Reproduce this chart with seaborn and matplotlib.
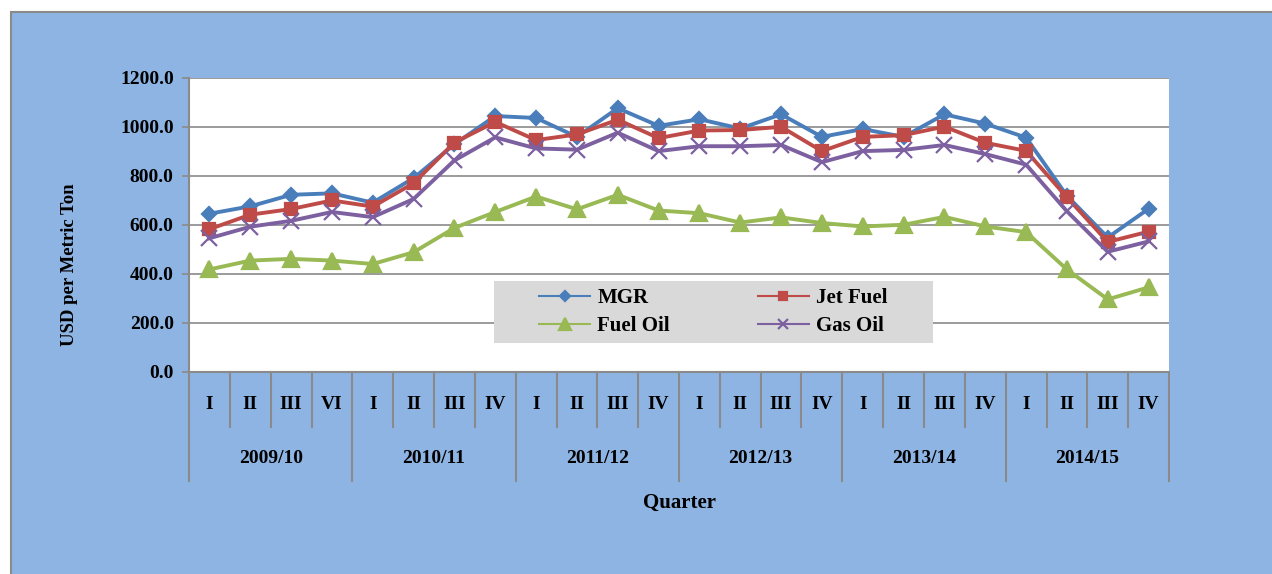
import numpy as np
import pandas as pd
import matplotlib
matplotlib.use("Agg")
import matplotlib.pyplot as plt
from matplotlib.patches import Rectangle
import seaborn as sns

# Quarterly prices (USD per metric ton)
quarters = ["I", "II", "III", "VI", "I", "II", "III", "IV",
            "I", "II", "III", "IV", "I", "II", "III", "IV",
            "I", "II", "III", "IV", "I", "II", "III", "IV"]
years = ["2009/10", "2010/11", "2011/12", "2012/13", "2013/14", "2014/15"]

mgr = [645, 675, 722, 728, 690, 790, 928, 1043, 1035, 958, 1075, 1003,
       1030, 992, 1050, 958, 990, 958, 1050, 1012, 955, 718, 548, 665]
jet_fuel = [582, 641, 664, 699, 674, 769, 935, 1019, 945, 968, 1028, 953,
            984, 986, 999, 900, 958, 965, 1000, 934, 901, 712, 530, 572]
fuel_oil = [418, 454, 461, 454, 440, 488, 587, 652, 715, 663, 722, 658,
            647, 609, 630, 607, 593, 600, 632, 593, 570, 418, 296, 345]
gas_oil = [545, 592, 616, 652, 631, 705, 862, 956, 911, 906, 975, 900,
           920, 920, 925, 855, 900, 905, 925, 888, 845, 655, 490, 532]

series = ["MGR", "Jet Fuel", "Fuel Oil", "Gas Oil"]
colors = ["#4A7EBB", "#BE4B48", "#98B954", "#7D60A0"]
markers = ["D", "s", "^", "x"]
msizes = [7, 9, 12, 11]

n = len(quarters)
df = pd.DataFrame({
    "idx": np.tile(np.arange(n), 4),
    "price": mgr + jet_fuel + fuel_oil + gas_oil,
    "series": np.repeat(series, n),
})

plt.rcParams["font.family"] = ["Liberation Serif", "DejaVu Serif"]
plt.rcParams["font.weight"] = "bold"

fig = plt.figure(figsize=(12.72, 5.74), dpi=100)
fig.patch.set_facecolor("white")
fig.add_artist(Rectangle((11 / 1272, -0.01), 1.0, (574 - 12) / 574 + 0.01,
                         transform=fig.transFigure, facecolor="#8EB4E3",
                         edgecolor="#8A8A8A", linewidth=1.5, zorder=-10))

ax = fig.add_axes([189 / 1272, (574 - 372) / 574, 980 / 1272, 294.5 / 574])
ax.set_facecolor("white")

for name, c, m, ms in zip(series, colors, markers, msizes):
    sub = df[df["series"] == name]
    sns.lineplot(data=sub, x="idx", y="price", color=c, marker=m,
                 markersize=ms, markeredgecolor=c, markerfacecolor=c,
                 markeredgewidth=1.6, linewidth=2.8, label=name, ax=ax)

# grey legend box, legend drawn on top of it
ax.add_patch(Rectangle((0.311, 0.0985), 0.448, 0.21, transform=ax.transAxes,
                       facecolor="#D9D9D9", edgecolor="none", zorder=4))
handles, labels = ax.get_legend_handles_labels()
lookup = dict(zip(labels, handles))
order = ["MGR", "Fuel Oil", "Jet Fuel", "Gas Oil"]
leg = ax.legend([lookup[k] for k in order], order, ncol=2, loc="center",
                bbox_to_anchor=(0.311 + 0.224, 0.0985 + 0.105),
                frameon=False, prop={"size": 15, "weight": "bold"},
                handlelength=2.45, handletextpad=0.35, columnspacing=4.2,
                markerscale=0.7, labelspacing=0.4, borderpad=0)
leg.set_zorder(5)
for h in leg.legend_handles:
    h.set_linewidth(1.5)

ax.set_ylim(0, 1200)
ax.set_xlim(-0.5, n - 0.5)
ax.set_yticks(np.arange(0, 1201, 200))
ax.set_yticklabels([f"{v:.1f}" for v in np.arange(0, 1201, 200)],
                   fontsize=14, fontweight="bold")
ax.yaxis.grid(True, color="#8A8A8A", linewidth=1.2)
ax.set_axisbelow(True)
ax.tick_params(axis="y", length=5, color="#8A8A8A", width=1.2, pad=6)
ax.set_xticks([])
ax.set_xlabel("")
ax.set_ylabel("USD per Metric Ton", fontsize=13.5, fontweight="bold")
ax.yaxis.set_label_coords(-0.113, 0.365)

for side in ["top", "right"]:
    ax.spines[side].set_visible(False)
for side in ["left", "bottom"]:
    ax.spines[side].set_color("#8A8A8A")
    ax.spines[side].set_linewidth(1.5)

# multi-level category axis below the plot
tr = ax.get_xaxis_transform()
for i, q in enumerate(quarters):
    ax.text(i, -0.112, q, transform=tr, ha="center", va="center",
            fontsize=14, fontweight="bold")
for k in range(n + 1):
    bottom = -0.37 if k % 4 == 0 else -0.187
    ax.plot([k - 0.5, k - 0.5], [0, bottom], transform=tr, color="#8A8A8A",
            linewidth=1.5, clip_on=False)
for j, y in enumerate(years):
    ax.text(j * 4 + 1.5, -0.295, y, transform=tr, ha="center", va="center",
            fontsize=14, fontweight="bold")
ax.text(0.5, -0.445, "Quarter", transform=ax.transAxes, ha="center",
        va="center", fontsize=15, fontweight="bold")

fig.savefig("out.png", dpi=100)
